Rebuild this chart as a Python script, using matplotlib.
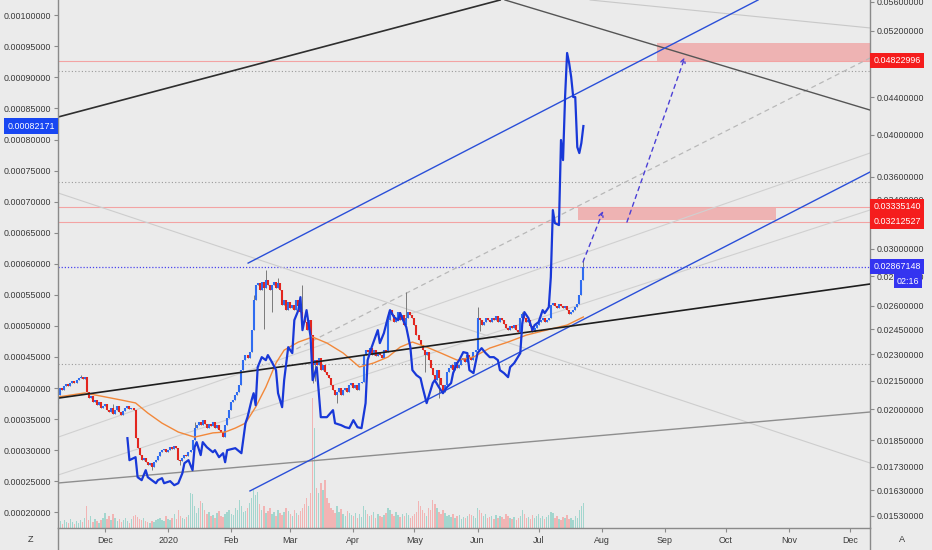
import numpy as np
import pandas as pd
import matplotlib
matplotlib.use('Agg')
import matplotlib.pyplot as plt
import matplotlib.dates as mdates
from matplotlib.lines import Line2D
from matplotlib.patches import Rectangle
from matplotlib.ticker import FixedLocator, NullLocator, FormatStrFormatter

plt.rcParams['font.family'] = ['Liberation Sans', 'DejaVu Sans']

# daily closes (right, log price scale), 2019-11-08 .. 2020-07-23
closes = [
    # Nov
    .02074, .02111, .02100, .02122, .02133, .02122, .02138, .02149, .02138, .02154,
    .02165, .02170, .02159, .02170, .02090, .02059, .02069, .02038, .02048, .02022,
    .02038, .02007, .02017,
    # Dec
    .02027, .01997, .01987, .02007, .01977, .01997, .02017, .01987, .01972, .01992,
    .02007, .02017, .02002, .02007, .01997, .01861, .01814, .01782, .01760, .01769,
    .01751, .01738, .01747, .01729, .01751, .01760, .01778, .01796, .01805, .01810,
    .01796,
    # Jan
    .01805, .01819, .01810, .01823, .01814, .01760, .01756, .01769, .01782, .01778,
    .01796, .01805, .01851, .01909, .01923, .01937, .01923, .01947, .01928, .01909,
    .01928, .01918, .01937, .01909, .01923, .01899, .01889, .01865, .01923, .01957,
    .01997,
    # Feb
    .02038, .02048, .02074, .02090, .02127, .02209, .02265, .02294, .02277, .02312,
    .02444, .02636, .02738, .02752, .02704, .02759, .02717, .02773, .02738, .02704,
    .02738, .02759, .02717, .02752, .02704, .02603, .02636, .02570, .02623,
    # Mar
    .02583, .02603, .02570, .02636, .02596, .02557, .02519, .02494, .02444, .02506,
    .02413, .02237, .02265, .02237, .02277, .02209, .02237, .02198, .02181, .02165,
    .02127, .02100, .02074, .02090, .02111, .02074, .02100, .02111, .02090, .02127,
    .02138,
    # Apr
    .02111, .02127, .02100, .02138, .02143, .02294, .02323, .02312, .02335, .02294,
    .02323, .02289, .02312, .02294, .02277, .02323, .02312, .02506, .02570, .02538,
    .02494, .02519, .02557, .02506, .02538, .02475, .02519, .02557, .02538, .02519,
    # May
    .02475, .02413, .02383, .02353, .02323, .02294, .02312, .02265, .02220, .02181,
    .02154, .02209, .02165, .02127, .02090, .02127, .02198, .02220, .02237, .02209,
    .02254, .02220, .02237, .02265, .02277, .02254, .02294, .02277, .02265, .02312,
    .02323,
    # Jun
    .02519, .02506, .02475, .02494, .02519, .02506, .02494, .02519, .02506, .02532,
    .02494, .02519, .02506, .02481, .02456, .02444, .02469, .02456, .02475, .02444,
    .02432, .02519, .02545, .02519, .02494, .02506, .02469, .02432, .02456, .02475,
    # Jul
    .02494, .02506, .02519, .02494, .02506, .02519, .02603, .02616, .02596, .02583,
    .02610, .02596, .02583, .02596, .02570, .02545, .02557, .02570, .02590, .02610,
    .02670, .02773, .02867148,
]
first_open = .02030

wick_high = {'2019-11-19': .02181, '2019-12-05': .02027, '2020-01-14': .01937,
             '2020-02-12': .02670, '2020-02-18': .02844, '2020-02-24': .02790,
             '2020-03-07': .02738, '2020-04-18': .02560, '2020-04-27': .02690,
             '2020-06-01': .02590, '2020-06-23': .02560, '2020-07-23': .02925}
wick_low = {'2019-12-24': .01716, '2020-01-07': .01738, '2020-02-17': .02450,
            '2020-02-21': .02560, '2020-03-12': .02138, '2020-03-13': .02150,
            '2020-03-24': .02033, '2020-05-13': .02059, '2020-05-06': .02200,
            '2020-06-02': .02440}

volume = [
    5, 7, 4, 8, 6, 5, 9, 6, 4, 7, 5, 8, 6, 10, 22, 8, 12, 6, 9, 7, 5, 8, 10,
    15, 9, 12, 8, 14, 10, 7, 9, 6, 8, 10, 7, 5, 9, 12, 13, 11, 9, 8, 10, 7, 6, 5, 7, 6, 8, 9, 10, 8, 7, 12,
    9, 8, 10, 14, 9, 18, 12, 10, 9, 11, 13, 35, 34, 22, 15, 20, 27, 25, 18, 14, 16, 12, 13, 10, 15, 17, 12, 11, 14, 16, 18,
    14, 13, 20, 18, 28, 22, 16, 17, 20, 25, 30, 38, 33, 36, 24, 18, 22, 15, 17, 20, 14, 16, 12, 18, 15, 13, 16, 20, 17,
    14, 12, 18, 15, 13, 17, 20, 24, 30, 22, 35, 130, 100, 40, 35, 45, 38, 48, 30, 25, 20, 18, 15, 22, 16, 19, 14, 12, 17, 15, 13,
    12, 15, 10, 14, 11, 22, 18, 14, 12, 13, 16, 10, 14, 12, 11, 13, 15, 20, 18, 14, 12, 16, 13, 11, 14, 12, 15, 13, 10, 12,
    14, 16, 27, 22, 18, 15, 12, 20, 18, 28, 24, 20, 16, 14, 18, 15, 12, 13, 11, 14, 10, 12, 13, 9, 11, 10, 12, 14, 13, 12, 10,
    20, 18, 15, 12, 14, 10, 11, 12, 9, 13, 10, 12, 11, 9, 14, 12, 10, 9, 11, 8, 10, 12, 18, 14, 10, 11, 9, 13, 10, 12,
    14, 10, 12, 9, 11, 13, 16, 15, 10, 12, 9, 8, 11, 10, 13, 9, 10, 8, 12, 10, 18, 22, 25,
]

# moving average (orange), days from 2019-12-01
ma_days = [-23, -10, 8, 15, 21, 28, 36, 44, 53, 59, 64, 69, 74, 79, 84, 88, 95, 102,
           109, 117, 125, 132, 139, 145, 151, 158, 165, 173, 181, 189, 198, 207, 217, 227, 235]
ma_vals = [.02064, .02085, .02048, .02033, .01982, .01932, .01889, .01865, .01885, .01889,
           .01908, .01932, .02012, .02116, .02249, .02323, .02371, .02401, .02365, .02306,
           .02226, .02249, .02283, .02341, .02371, .02341, .02306, .02265, .02283, .02335,
           .02371, .02413, .02444, .02475, .02526]

# compared symbol (blue line, left linear scale), days from 2019-12-01
blue_days = [11, 12, 15, 16, 18, 20, 21, 25, 26, 28, 29, 32, 34, 36, 38, 39, 41, 43, 44, 45,
             47, 48, 50, 53, 54, 56, 58, 59, 60, 64, 67, 69, 70, 72, 73, 74, 75, 77, 79, 80,
             82, 84, 85, 87, 88, 90, 92, 93, 95, 96, 97, 99, 101, 102, 104, 106, 109, 112, 113, 116,
             118, 120, 122, 124, 126, 128, 129, 131, 134, 135, 137, 139, 140, 142, 144, 145, 146, 148, 150, 151,
             153, 155, 156, 158, 161, 162, 164, 166, 168, 170, 171, 173, 174, 176, 178, 179, 181, 183, 185, 187,
             189, 191, 193, 194, 196, 198, 199, 201, 204, 205, 206, 208, 210, 211, 213, 215, 216, 218, 219, 220,
             221, 223, 224, 225, 226, 227, 228, 229, 230, 231, 232, 233, 234, 235]
blue_vals_e6 = [319.3, 283.9, 288.7, 256.5, 251.7, 267.8, 256.5, 246.8, 251.7, 254.9,
                246.8, 250.1, 243.6, 246.8, 262.9, 279.0, 283.9, 267.8, 304.8, 312.9,
                292.0, 312.9, 304.8, 296.7, 300.0, 288.7, 295.1, 280.6, 300.0, 303.2,
                295.1, 343.4, 353.1, 380.5, 391.7, 372.4, 433.6, 449.7, 444.9, 453.0,
                441.7, 428.8, 391.7, 369.2, 412.7, 465.8, 456.2, 509.3, 525.4, 546.3,
                493.2, 525.4, 481.9, 412.7, 433.6, 353.1, 353.1, 364.4, 343.4, 340.2,
                337.0, 335.4, 348.3, 337.0, 335.4, 375.7, 444.9, 465.8, 493.2, 472.3,
                488.4, 514.1, 525.4, 514.1, 509.3, 520.6, 512.5, 498.0, 465.8, 428.8,
                420.7, 415.9, 401.4, 375.7, 407.9, 412.7, 401.4, 391.7, 401.4, 407.9,
                424.0, 440.1, 444.9, 457.8, 456.2, 428.8, 424.0, 456.2, 464.2, 456.2,
                449.7, 449.7, 444.9, 428.8, 424.0, 417.5, 433.6, 440.1, 456.2, 504.5,
                522.2, 512.5, 493.2, 501.2, 506.1, 525.4, 520.6, 530.2, 578.5, 686.4,
                665.5, 662.3, 799.2, 766.9, 868.4, 939.3, 923.1, 900.6, 868.4, 868.4,
                787.9, 778.2, 794.3, 821.71]
blue_last = 0.00082171

# drawings: (day0, price0, day1, price1), days from 2019-12-01
black_upper = (-23, .04185, 194.1, .05623)
grey_upper = (196.5, .05623, 375.8, .04259)
faint_upper = (238.3, .05623, 375.8, .05240)
channel_top = (70.3, .02894, 320.8, .05623)
channel_bottom = (71.2, .01628, 375.8, .03642)
black_lower = (-23, .02058, 375.8, .02745)
grey_lower = (-23, .01661, 375.8, .01987)
faint_down = (-23, .03454, 375.8, .01747)
fan_a = (-23, .01865, 375.8, .03821)
fan_b = (-23, .01695, 375.8, .03309)
proj_dashed = (94.0, .02330, 375.8, .04857)
arrow_a = (234.8, .02902, 244.7, .03301)
arrow_b = (256.4, .03210, 284.9, .04869)

zone_high = (271.2, 380, .04823, .05045)
zone_low = (232.4, 329.6, .0323, .03335)

red_levels = [.04822996, .03335140, .03212527]
grey_levels = [.04700, .03551, .02243]
last_level = .02867148

right_ticks = [.0153, .0163, .0173, .0185, .02, .0215, .023, .0245, .026, .028, .03,
               .034, .036, .04, .044, .052, .056]
left_ticks = [0.0002, 0.00025, 0.0003, 0.00035, 0.0004, 0.00045, 0.0005, 0.00055, 0.0006,
              0.00065, 0.0007, 0.00075, 0.0008, 0.00085, 0.0009, 0.00095, 0.001]
month_labels = ['Dec', '2020', 'Feb', 'Mar', 'Apr', 'May', 'Jun', 'Jul', 'Aug', 'Sep', 'Oct', 'Nov', 'Dec']

# ---------------------------------------------------------------
bg = '#ebebeb'
W, H = 932, 550
fig = plt.figure(figsize=(W / 100, H / 100), dpi=100, facecolor=bg)
rect = [58 / W, 22 / H, 812 / W, 528 / H]
ax_vol = fig.add_axes(rect)
ax = fig.add_axes(rect)
ax_b = fig.add_axes(rect)

base = mdates.date2num(pd.Timestamp('2019-12-01'))
xlim = (base - 23.1, base + 375.8)

def d2x(d):
    return base + np.asarray(d, dtype=float)

dates = pd.date_range('2019-11-08', periods=len(closes))
xs = mdates.date2num(dates)
c = np.array(closes)
o = np.concatenate([[first_open], c[:-1]])
hi = np.maximum(o, c)
lo = np.minimum(o, c)
for k, v in wick_high.items():
    hi[dates.get_loc(pd.Timestamp(k))] = v
for k, v in wick_low.items():
    lo[dates.get_loc(pd.Timestamp(k))] = v
up = c >= o

# volume
ax_vol.bar(xs, volume, width=0.7, color=np.where(up, '#a3d6ce', '#f2b4b4'), zorder=1)
ax_vol.set_xlim(xlim)
ax_vol.set_ylim(0, max(volume) * 4.06)
ax_vol.axis('off')

# main price pane (log, right)
ax.set_facecolor('none')
ax.set_yscale('log')
ax.set_xlim(xlim)
ax.set_ylim(0.014826, 0.05623)

for v in red_levels:
    ax.axhline(v, color='#f3a3a3', lw=0.8, zorder=1)
for v in grey_levels:
    ax.axhline(v, color='#9a9a9a', lw=0.8, ls=(0, (1, 2)), zorder=1)
ax.axhline(last_level, color='#4a44ee', lw=0.9, ls=(0, (1, 1.5)), zorder=1)

for (x0, x1, p0, p1) in [zone_high, zone_low]:
    ax.add_patch(Rectangle((d2x(x0), p0), x1 - x0, p1 - p0, facecolor='#efa9a9',
                           edgecolor='none', alpha=0.85, zorder=2))

def seg(t, **kw):
    ax.plot(d2x([t[0], t[2]]), [t[1], t[3]], **kw)

seg(faint_down, color='#cdcdcd', lw=0.8, zorder=2)
seg(fan_a, color='#d0d0d0', lw=0.8, zorder=2)
seg(fan_b, color='#d0d0d0', lw=0.8, zorder=2)
seg(faint_upper, color='#c8c8c8', lw=0.8, zorder=2)
seg(proj_dashed, color='#b8b8b8', lw=0.9, ls=(0, (4, 3)), zorder=2)
seg(grey_lower, color='#8e8e8e', lw=1.0, zorder=2)
seg(black_upper, color='#2e2e2e', lw=1.2, zorder=3)
seg(grey_upper, color='#555555', lw=1.0, zorder=3)
seg(channel_top, color='#2a4fd8', lw=1.0, zorder=3)
seg(channel_bottom, color='#2a4fd8', lw=1.0, zorder=5)

# candles: grey wicks, coloured bodies
ax.vlines(xs, lo, hi, color='#7a7a7a', lw=0.7, zorder=3)
ax.vlines(xs, o, c, colors=np.where(up, '#2f6cf0', '#e3261e'), lw=1.5, zorder=4)
ax.plot(d2x(ma_days), ma_vals, color='#f2883a', lw=1.0, zorder=4)
seg(black_lower, color='#1e1e1e', lw=1.2, zorder=5)

for t in [arrow_a, arrow_b]:
    ax.annotate('', xy=(d2x(t[2]), t[3]), xytext=(d2x(t[0]), t[1]),
                arrowprops=dict(arrowstyle='->', color='#4b3fd6', lw=1.0,
                                ls=(0, (3, 3)), mutation_scale=8, shrinkA=0, shrinkB=0),
                zorder=6)

ax.yaxis.tick_right()
ax.yaxis.set_major_locator(FixedLocator(right_ticks))
ax.yaxis.set_minor_locator(NullLocator())
ax.yaxis.set_major_formatter(FormatStrFormatter('%.8f'))
month_pos = mdates.date2num(pd.date_range('2019-12-01', periods=len(month_labels), freq='MS'))
ax.set_xticks(month_pos)
ax.set_xticklabels(month_labels)
ax.tick_params(axis='both', labelsize=6.4, colors='#8a8a8a', labelcolor='#3a3a3a',
               length=3, width=0.8, pad=2)
ax.tick_params(axis='x', pad=3)
for s in ['top', 'left']:
    ax.spines[s].set_visible(False)
for s in ['right', 'bottom']:
    ax.spines[s].set_color('#8a8a8a')
    ax.spines[s].set_linewidth(1.0)

# compared symbol (linear, left)
ax_b.set_facecolor('none')
ax_b.set_xlim(xlim)
ax_b.set_ylim(0.0001747, 0.0010246)
blue_vals = np.array(blue_vals_e6) * 1e-6
blue_vals[-1] = blue_last
ax_b.plot(d2x(blue_days), blue_vals, color='#1838d8', lw=1.6, zorder=6)
ax_b.yaxis.set_major_locator(FixedLocator(left_ticks))
ax_b.yaxis.set_major_formatter(FormatStrFormatter('%.8f'))
ax_b.set_xticks([])
ax_b.tick_params(axis='y', labelsize=6.4, colors='#8a8a8a', labelcolor='#3a3a3a',
                 length=3, width=0.8, pad=2)
for s in ['top', 'right', 'bottom']:
    ax_b.spines[s].set_visible(False)
ax_b.spines['left'].set_color('#8a8a8a')
ax_b.spines['left'].set_linewidth(1.0)

# price labels
ytr = ax.get_yaxis_transform()
for v in red_levels:
    ax.text(1.004, v, '%.8f' % v, transform=ytr, fontsize=6.4, color='white', va='center',
            ha='left', clip_on=False, zorder=10,
            bbox=dict(boxstyle='square,pad=0.35', fc='#f51d1d', ec='none'))
ax.text(1.004, last_level, '%.8f' % last_level, transform=ytr, fontsize=6.4, color='white',
        va='center', ha='left', clip_on=False, zorder=10,
        bbox=dict(boxstyle='square,pad=0.35', fc='#3434f0', ec='none'))
ax.text(1.033, .02766, '02:16', transform=ytr, fontsize=6.4, color='white',
        va='center', ha='left', clip_on=False, zorder=10,
        bbox=dict(boxstyle='square,pad=0.3', fc='#3434f0', ec='none'))
ax_b.text(-0.004, blue_last, '%.8f' % blue_last, transform=ax_b.get_yaxis_transform(),
          fontsize=6.4, color='white', va='center', ha='right', clip_on=False, zorder=10,
          bbox=dict(boxstyle='square,pad=0.4', fc='#1846f2', ec='none'))

fig.add_artist(Line2D([58 / W, 58 / W], [0, 22 / H], color='#8a8a8a', lw=1.0))
fig.add_artist(Line2D([870 / W, 870 / W], [0, 22 / H], color='#8a8a8a', lw=1.0))
fig.text(30 / W, 1 - 539 / H, 'Z', fontsize=6.6, color='#3a3a3a', ha='center', va='center')
fig.text(902 / W, 1 - 539 / H, 'A', fontsize=6.6, color='#3a3a3a', ha='center', va='center')

fig.savefig('out.png', dpi=100, facecolor=bg)
